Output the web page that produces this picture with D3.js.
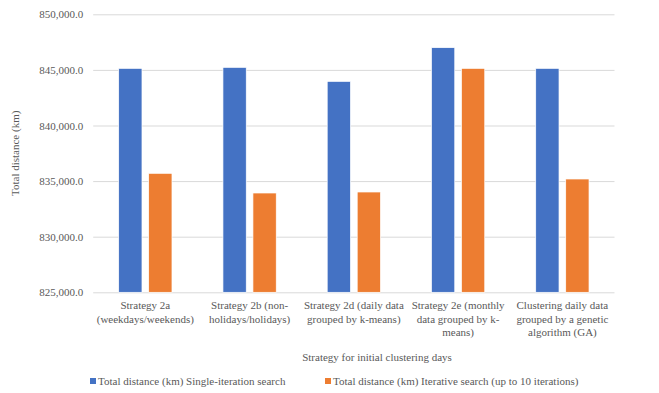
<!DOCTYPE html>
<html>
<head>
  <style>
    body {
      margin: 0;
      background: white;
    }
  </style>
</head>
<body>
  <div id="chart"></div>
  <script src="https://cdn.jsdelivr.net/npm/d3@7"></script>
  <script>
    var width = 659, height = 393;

    var categories = [
      "Strategy 2a (weekdays/weekends)",
      "Strategy 2b (non-holidays/holidays)",
      "Strategy 2d (daily data grouped by k-means)",
      "Strategy 2e (monthly data grouped by k-means)",
      "Clustering daily data grouped by a genetic algorithm (GA)"
    ];
    var seriesNames = [
      "Total distance (km) Single-iteration search",
      "Total distance (km) Iterative search (up to 10 iterations)"
    ];
    var singleIteration = [845140, 845230, 843970, 847000, 845140];
    var iterative = [835700, 833930, 834020, 845140, 835190];
    var yTicks = [825000, 830000, 835000, 840000, 845000, 850000];
    var colours = ["#4472C4", "#ED7D31"];

    var values = [singleIteration, iterative];
    var serif = '"Times New Roman", "Liberation Serif", "DejaVu Serif", serif';
    var textColour = "#595959";

    var plotLeft = 93.2, plotRight = 614.5, plotTop = 14.3, plotBottom = 292.3;

    var svg = d3.select("#chart").append("svg")
        .attr("width", width)
        .attr("height", height)
        .style("font-family", serif);

    var x0 = d3.scaleBand().domain(categories).range([plotLeft, plotRight]);
    var x1 = d3.scaleBand().domain(d3.range(seriesNames.length))
        .range([0, 53.3]).paddingInner(0.223);
    var y = d3.scaleLinear().domain([825000, 850000]).range([plotBottom, plotTop]);

    // gridlines + tick labels
    var yAxis = svg.append("g")
        .attr("transform", "translate(" + plotLeft + ",0)")
        .call(d3.axisLeft(y).tickValues(yTicks).tickFormat(d3.format(",.1f"))
          .tickSize(-(plotRight - plotLeft)).tickPadding(10));
    yAxis.attr("font-family", null).attr("font-size", null);
    yAxis.select(".domain").remove();
    yAxis.selectAll("line").attr("stroke", "#d9d9d9");
    yAxis.selectAll("text")
        .style("font-family", serif)
        .style("font-size", "11px")
        .attr("fill", textColour);

    // bars
    var groups = svg.selectAll("g.cat")
        .data(categories)
      .enter().append("g")
        .attr("class", "cat")
        .attr("transform", d => "translate(" + (x0(d) + (x0.bandwidth() - 53.3) / 2) + ",0)");

    groups.selectAll("rect")
        .data((d, i) => values.map((s, k) => ({ k: k, v: s[i] })))
      .enter().append("rect")
        .attr("x", d => x1(d.k))
        .attr("width", x1.bandwidth())
        .attr("y", d => y(d.v))
        .attr("height", d => y(825000) - y(d.v))
        .attr("fill", d => colours[d.k])
        .attr("stroke", "white")
        .attr("stroke-width", 0.7);

    // category labels, wrapped on spaces and hyphens
    function wrapLabel(text, maxW) {
      var raw = text.match(/[^\s-]+-?\s*/g);
      var lines = [], cur = "";
      var probe = svg.append("text").style("font-family", serif).style("font-size", "11px");
      raw.forEach(t => {
        var test = cur + t;
        probe.text(test.trim());
        if (cur !== "" && probe.node().getComputedTextLength() > maxW) {
          lines.push(cur.trim());
          cur = t;
        } else {
          cur = test;
        }
      });
      lines.push(cur.trim());
      probe.remove();
      return lines;
    }

    categories.forEach(c => {
      var cx = x0(c) + x0.bandwidth() / 2;
      var lines = wrapLabel(c, 100);
      var t = svg.append("text")
          .attr("text-anchor", "middle")
          .style("font-size", "11px")
          .attr("fill", textColour)
          .attr("x", cx)
          .attr("y", 309);
      lines.forEach((l, i) => {
        t.append("tspan")
            .attr("x", cx)
            .attr("dy", i === 0 ? 0 : 13.5)
            .text(l);
      });
    });

    // axis titles
    svg.append("text")
        .attr("text-anchor", "middle")
        .style("font-size", "11px")
        .attr("fill", textColour)
        .attr("transform", "translate(19," + ((plotTop + plotBottom) / 2) + ") rotate(-90)")
        .text("Total distance (km)");

    svg.append("text")
        .attr("text-anchor", "middle")
        .style("font-size", "11px")
        .attr("fill", textColour)
        .attr("x", 377)
        .attr("y", 361)
        .text("Strategy for initial clustering days");

    // legend
    var legendX = [90, 325];
    var legend = svg.selectAll("g.legend")
        .data(seriesNames)
      .enter().append("g")
        .attr("class", "legend")
        .attr("transform", (d, i) => "translate(" + legendX[i] + ",385)");
    legend.append("rect")
        .attr("x", 0).attr("y", -7)
        .attr("width", 6).attr("height", 6)
        .attr("fill", (d, i) => colours[i]);
    legend.append("text")
        .attr("x", 8)
        .style("font-size", "11px")
        .attr("fill", textColour)
        .text(d => d);
  </script>
</body>
</html>
